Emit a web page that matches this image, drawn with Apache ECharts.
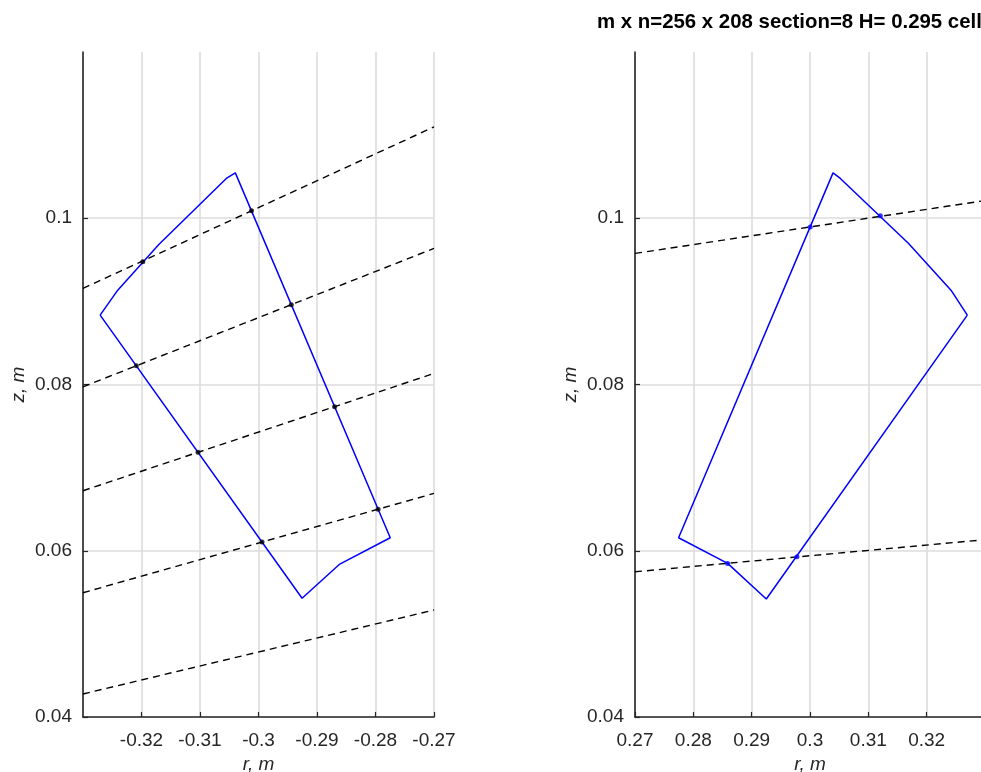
<!DOCTYPE html>
<html>
<head>
<meta charset="utf-8">
<script src="https://cdn.jsdelivr.net/npm/echarts@6/dist/echarts.min.js"></script>
<style>
  html, body { margin: 0; padding: 0; background: #fff; }
  #chart { width: 981px; height: 772px; }
</style>
</head>
<body>
<div id="chart"></div>
<script>
// Cross-section outline (r, z) for the negative-r side and its positive-r twin
const leftOutlineR  = [-0.32707, -0.32406, -0.31704, -0.3055, -0.30396, -0.27748, -0.2861, -0.29255, -0.32707];
const leftOutlineZ  = [0.08835, 0.09135, 0.09685, 0.10479, 0.10546, 0.06156, 0.0584, 0.05428, 0.08835];
const rightOutlineR = [0.32697, 0.32417, 0.3169, 0.3052, 0.30395, 0.27747, 0.28588, 0.29251, 0.32697];
const rightOutlineZ = [0.08835, 0.09135, 0.09697, 0.10479, 0.10546, 0.06156, 0.05848, 0.05419, 0.08835];

// Ray traces crossing each panel: endpoints r and z for each ray
const leftRayR  = [-0.33, -0.27];
const leftRayZ  = [
  [0.09156, 0.11099],
  [0.07972, 0.09637],
  [0.06722, 0.08133],
  [0.05495, 0.06690],
  [0.04277, 0.05287]
];
const rightRayR = [0.27, 0.33];
const rightRayZ = [
  [0.09577, 0.10213],
  [0.05747, 0.06133]
];

// Points where the rays cut the outline
const leftHitR  = [-0.31978, -0.30120, -0.32089, -0.29439, -0.31034, -0.28699, -0.29940, -0.27955];
const leftHitZ  = [0.09476, 0.10089, 0.08225, 0.08960, 0.07184, 0.07733, 0.06104, 0.06500];
const rightHitR = [0.30004, 0.31206, 0.28588, 0.29777];
const rightHitZ = [0.09895, 0.10030, 0.05848, 0.05927];

// Axis ranges and labels
const titleText = 'm x n=256 x 208 section=8 H= 0.295 cell';
const leftRange  = [-0.33, -0.27];
const rightRange = [0.27, 0.33];
const zRange = [0.04, 0.12];
const rTick = 0.01;
const zTick = 0.02;
const rName = 'r, m';
const zName = 'z, m';

const FONT = "'Liberation Sans', Arial, Helvetica, sans-serif";
const AX = '#262626';
const GRID = '#dcdcdc';

const pairs = (xs, ys) => xs.map((x, i) => [x, ys[i]]);

function xAxis(idx, range, hideMin, hideMax) {
  return {
    type: 'value', gridIndex: idx, min: range[0], max: range[1], interval: rTick,
    name: rName, nameLocation: 'middle', nameGap: 37,
    nameTextStyle: { fontFamily: FONT, fontSize: 19, fontStyle: 'italic', color: AX },
    axisLine: { show: true, onZero: false, lineStyle: { color: AX, width: 1.6 } },
    axisTick: { show: true, inside: true, length: 5, lineStyle: { color: AX, width: 1.2 } },
    axisLabel: { fontFamily: FONT, fontSize: 19, color: AX, margin: 14, showMinLabel: !hideMin, showMaxLabel: !hideMax },
    splitLine: { show: true, lineStyle: { color: GRID, width: 1.6 } }
  };
}
function yAxis(idx) {
  return {
    type: 'value', gridIndex: idx, min: zRange[0], max: zRange[1], interval: zTick,
    name: zName, nameLocation: 'middle', nameGap: 55, nameRotate: 90,
    nameTextStyle: { fontFamily: FONT, fontSize: 19, fontStyle: 'italic', color: AX },
    axisLine: { show: true, onZero: false, lineStyle: { color: AX, width: 1.6 } },
    axisTick: { show: true, inside: true, length: 5, lineStyle: { color: AX, width: 1.2 } },
    axisLabel: { fontFamily: FONT, fontSize: 19, color: AX, margin: 11, showMaxLabel: false },
    splitLine: { show: true, lineStyle: { color: [GRID, GRID, GRID, GRID, 'rgba(0,0,0,0)'], width: 1.6 } }
  };
}

function raySeries(gridIdx, rs, zsList) {
  return zsList.map(zs => ({
    type: 'line', xAxisIndex: gridIdx, yAxisIndex: gridIdx,
    data: pairs(rs, zs), symbol: 'none', silent: true,
    lineStyle: { color: '#000', width: 1.4, type: [7, 5] }, z: 3
  }));
}

const series = [
  {
    type: 'line', xAxisIndex: 0, yAxisIndex: 0, data: pairs(leftOutlineR, leftOutlineZ),
    symbol: 'none', lineStyle: { color: '#0000ff', width: 1.5 }, z: 4
  },
  {
    type: 'line', xAxisIndex: 1, yAxisIndex: 1, data: pairs(rightOutlineR, rightOutlineZ),
    symbol: 'none', lineStyle: { color: '#0000ff', width: 1.5 }, z: 4
  },
  ...raySeries(0, leftRayR, leftRayZ),
  ...raySeries(1, rightRayR, rightRayZ),
  {
    type: 'scatter', xAxisIndex: 0, yAxisIndex: 0, data: pairs(leftHitR, leftHitZ),
    symbol: 'circle', symbolSize: 5, itemStyle: { color: '#000' }, z: 5
  },
  {
    type: 'scatter', xAxisIndex: 1, yAxisIndex: 1, data: pairs(rightHitR, rightHitZ),
    symbol: 'circle', symbolSize: 5, itemStyle: { color: '#0000ff' }, z: 5
  }
];

const chart = echarts.init(document.getElementById('chart'), null, { renderer: 'canvas' });
chart.setOption({
  animation: false,
  backgroundColor: '#ffffff',
  title: {
    text: titleText, left: 597, top: 12, padding: 0,
    textStyle: { fontFamily: FONT, fontSize: 20.4, fontWeight: 'bold', color: '#000' }
  },
  grid: [
    { left: 83, width: 351, top: 52, height: 665, outerBoundsMode: 'none', containLabel: false },
    { left: 635, width: 350, top: 52, height: 665, outerBoundsMode: 'none', containLabel: false }
  ],
  xAxis: [xAxis(0, leftRange, true, false), xAxis(1, rightRange, false, true)],
  yAxis: [yAxis(0), yAxis(1)],
  series: series
});
</script>
</body>
</html>
